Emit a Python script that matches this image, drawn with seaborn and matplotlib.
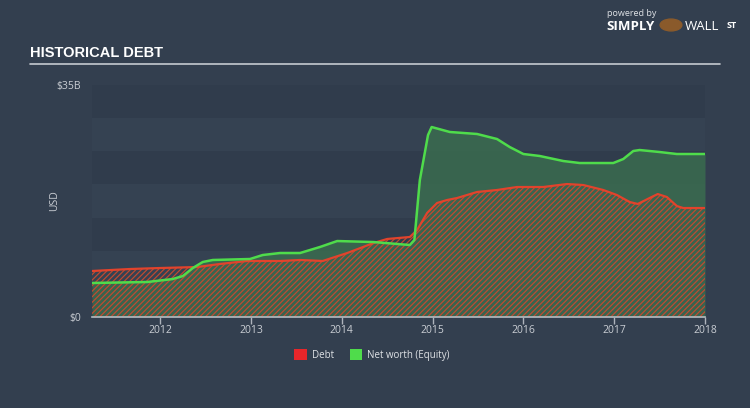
import matplotlib
matplotlib.use("Agg")
import matplotlib.pyplot as plt
import seaborn as sns
import pandas as pd
from matplotlib.patches import Patch, Circle
from matplotlib.lines import Line2D

# ---- data (USD billions) ----
debt_years = [2011.25, 2011.67, 2012.0, 2012.41, 2012.66, 2012.96, 2013.32, 2013.54,
              2013.79, 2014.06, 2014.35, 2014.50, 2014.75, 2014.83, 2014.94, 2015.05,
              2015.16, 2015.27, 2015.49, 2015.71, 2015.93, 2016.22, 2016.48, 2016.66,
              2016.88, 2017.03, 2017.17, 2017.26, 2017.39, 2017.48, 2017.58, 2017.69,
              2017.76, 2018.0]
debt_values = [6.94, 7.24, 7.39, 7.54, 8.0, 8.45, 8.45, 8.6,
               8.45, 9.65, 11.16, 11.77, 12.07, 13.12, 15.69, 17.2,
               17.65, 17.95, 18.86, 19.16, 19.61, 19.61, 20.06, 19.91,
               19.16, 18.4, 17.35, 17.05, 17.95, 18.55, 18.1, 16.74,
               16.44, 16.44]

equity_years = [2011.25, 2011.86, 2012.14, 2012.25, 2012.36, 2012.47, 2012.58, 2012.99,
                2013.13, 2013.32, 2013.54, 2013.76, 2013.95, 2014.35, 2014.75, 2014.80,
                2014.86, 2014.95, 2014.99, 2015.19, 2015.49, 2015.71, 2015.85, 2016.0,
                2016.18, 2016.44, 2016.62, 2016.99, 2017.10, 2017.21, 2017.28, 2017.50,
                2017.69, 2018.0]
equity_values = [5.13, 5.28, 5.73, 6.18, 7.39, 8.3, 8.6, 8.75,
                 9.35, 9.65, 9.65, 10.56, 11.46, 11.31, 10.86, 11.62,
                 20.67, 27.45, 28.66, 27.91, 27.61, 26.85, 25.64, 24.59,
                 24.29, 23.53, 23.23, 23.23, 23.83, 25.04, 25.19, 24.89,
                 24.59, 24.59]

year_ticks = [2012, 2013, 2014, 2015, 2016, 2017, 2018]
y_tick_values = [0, 35]
y_tick_labels = ["$0", "$35B"]
series_names = ["Debt", "Net worth (Equity)"]

# ---- style ----
BG = "#333f4f"
LIGHT = "#354252"
BAND = "#303c4c"
TXT = "#c9cdd3"
DEBT_LINE = "#e2432c"
DEBT_HATCH = "#c44a30"
EQ_LINE = "#4fdc4b"
EQ_FILL = "#3a6a4f"

sns.set_style("dark")
plt.rcParams["font.family"] = ["Open Sans", "DejaVu Sans"]
plt.rcParams["hatch.linewidth"] = 0.85

fig = plt.figure(figsize=(7.5, 4.08), dpi=100, facecolor=BG)
ax = fig.add_axes([92 / 750, 1 - 317 / 408, (705 - 92) / 750, (317 - 85) / 408])
ax.set_facecolor(LIGHT)

for lo in (30, 20, 10, 0):
    ax.axhspan(lo, lo + 5, color=BAND, lw=0, zorder=0)

df_debt = pd.DataFrame({"year": debt_years, "value": debt_values})
df_eq = pd.DataFrame({"year": equity_years, "value": equity_values})

ax.fill_between(df_eq["year"], 0, df_eq["value"], color=EQ_FILL, alpha=0.88, lw=0, zorder=1)
ax.fill_between(df_debt["year"], 0, df_debt["value"], facecolor="none",
                edgecolor=DEBT_HATCH, hatch="//////", lw=0, zorder=2)

sns.lineplot(data=df_debt, x="year", y="value", color=DEBT_LINE, lw=1.6, ax=ax, zorder=3)
sns.lineplot(data=df_eq, x="year", y="value", color=EQ_LINE, lw=1.8, ax=ax, zorder=4)

ax.set_xlim(2011.25, 2018.0)
ax.set_ylim(0, 35)
ax.set_xticks(year_ticks)
ax.set_xticklabels([str(y) for y in year_ticks], color=TXT, fontsize=7.5)
ax.set_yticks(y_tick_values)
ax.set_yticklabels(y_tick_labels, color=TXT, fontsize=7.5)
ax.tick_params(axis="x", length=5, width=1, color="#aeb4bc", pad=0.5, bottom=True)
ax.tick_params(axis="y", length=0, pad=8)
ax.set_xlabel("")
ax.set_ylabel("USD", color=TXT, fontsize=7.5)
ax.yaxis.set_label_coords(-0.052, 0.5)
ax.grid(False)
for s in ("top", "right", "left"):
    ax.spines[s].set_visible(False)
ax.spines["bottom"].set_color("#b5bac1")
ax.spines["bottom"].set_linewidth(1.2)

# title and rule
fig.text(30 / 750, 1 - 53 / 408, "HISTORICAL DEBT", color="white", fontsize=10.5,
         fontweight="bold", family=["Liberation Sans Narrow", "Liberation Sans"],
         va="center", ha="left")
fig.add_artist(Line2D([30 / 750, 720 / 750], [1 - 64 / 408, 1 - 64 / 408],
                      color="#c5cad0", lw=1.2))

# logo
fig.text(607 / 750, 1 - 14 / 408, "powered by", color="#dfe2e6", fontsize=6.5, va="center")
fig.text(606 / 750, 1 - 27 / 408, "SIMPLY", color="white", fontsize=9.5,
         fontweight="bold", va="center")
fig.add_artist(Circle((671 / 750, 1 - 25 / 408), 0.0145, transform=fig.transFigure,
                      color="#8a5a2b", zorder=5))
fig.text(685 / 750, 1 - 27 / 408, "WALL", color="white", fontsize=9.5, va="center")
fig.text(727 / 750, 1 - 25 / 408, "ST", color="white", fontsize=6.5,
         fontweight="bold", va="center")

# legend
handles = [Patch(facecolor="#e8262a", edgecolor="none"),
           Patch(facecolor="#4fdc4b", edgecolor="none")]
leg = fig.legend(handles, series_names, loc="center", ncol=2,
                 bbox_to_anchor=(372 / 750, 1 - 355 / 408), frameon=False,
                 fontsize=7.0, handlelength=1.3, handleheight=1.3,
                 handletextpad=0.5, columnspacing=1.6)
for t in leg.get_texts():
    t.set_color("#dfe2e6")

fig.savefig("out.png", dpi=100, facecolor=BG)
